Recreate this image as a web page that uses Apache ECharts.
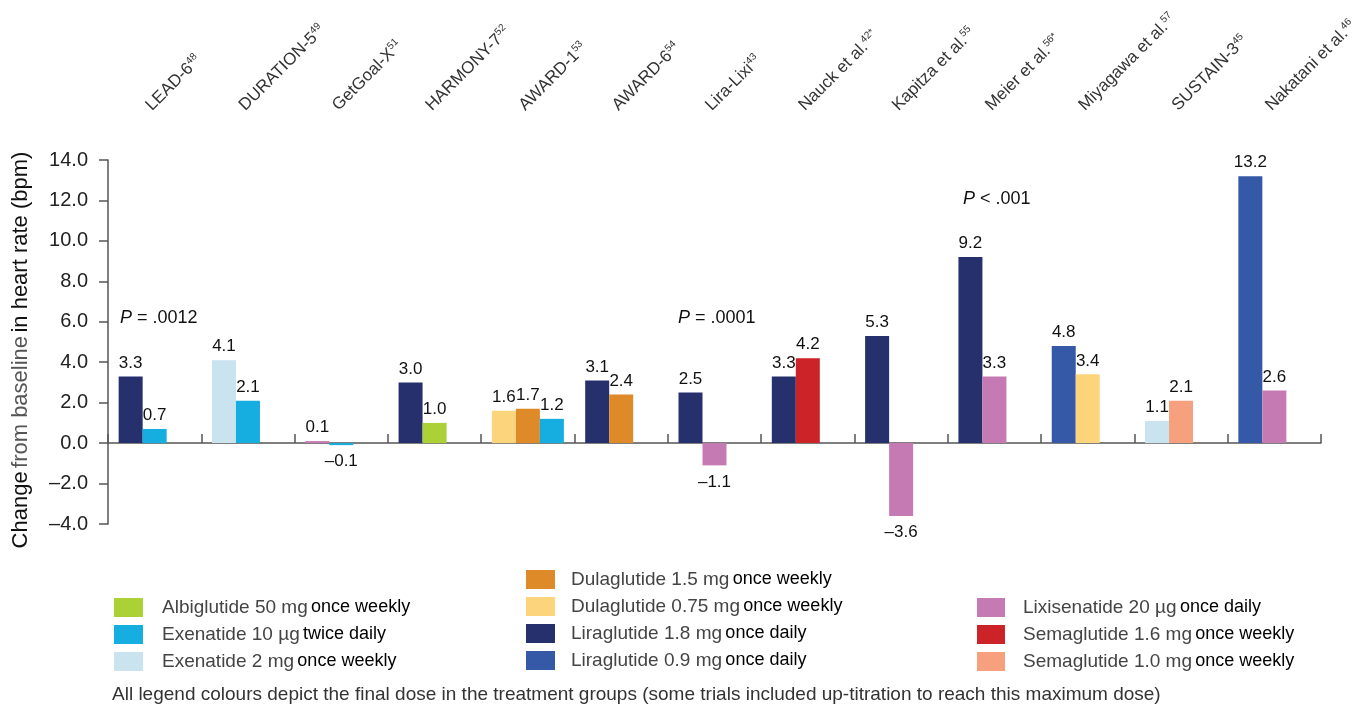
<!DOCTYPE html>
<html><head><meta charset="utf-8">
<script src="https://cdn.jsdelivr.net/npm/echarts@6/dist/echarts.min.js"></script>
<style>html,body{margin:0;padding:0;background:#fff}#c{width:1354px;height:707px}</style>
</head><body><div id="c"></div>
<script>
// ---- data ----
const categories = ['LEAD-6','DURATION-5','GetGoal-X','HARMONY-7','AWARD-1','AWARD-6','Lira-Lixi','Nauck et al.','Kapitza et al.','Meier et al.','Miyagawa et al.','SUSTAIN-3','Nakatani et al.'];
const categorySups = ['48','49','51','52','53','54','43','42*','55','56*','57','45','46'];
const drugNames = ['Albiglutide 50 mg','Exenatide 10 µg','Exenatide 2 mg','Dulaglutide 1.5 mg','Dulaglutide 0.75 mg','Liraglutide 1.8 mg','Liraglutide 0.9 mg','Lixisenatide 20 µg','Semaglutide 1.6 mg','Semaglutide 1.0 mg'];
const drugFreqs = ['once weekly','twice daily','once weekly','once weekly','once weekly','once daily','once daily','once daily','once weekly','once weekly'];
const slot1Drug   = [5, 2, 7, 5, 4, 5, 5, 5, 5, 5, 6, 2, 6];
const slot1Values = [3.3, 4.1, 0.1, 3.0, 1.6, 3.1, 2.5, 3.3, 5.3, 9.2, 4.8, 1.1, 13.2];
const slot2Drug   = [1, 1, 1, 0, 3, 3, 7, 8, 7, 7, 4, 9, 7];
const slot2Values = [0.7, 2.1, -0.1, 1.0, 1.7, 2.4, -1.1, 4.2, -3.6, 3.3, 3.4, 2.1, 2.6];
const slot3Drug   = [null, null, null, null, 1, null, null, null, null, null, null, null, null];
const slot3Values = [null, null, null, null, 1.2, null, null, null, null, null, null, null, null];
const yMin = -4, yMax = 14, yInterval = 2;
const legendColumns = [[0,1,2],[3,4,5,6],[7,8,9]];
const pAnnotations = [['P', ' = .0012'], ['P', ' = .0001'], ['P', ' < .001']];

// ---- style ----
const drugColors = ['#acd136','#16aee0','#c9e3ef','#de8a29','#fcd47c','#25306c','#3659a7','#c67ab4','#cc2329','#f6a07d'];
const FONT = '"Liberation Sans", Arial, Helvetica, sans-serif';
const dash = v => (v < 0 ? '\u2013' + Math.abs(v).toFixed(1) : v.toFixed(1));
const fullName = i => drugNames[i] + ' ' + drugFreqs[i];

function slotData(drugs, values) {
  return values.map((v, i) => v === null ? null : {
    value: v,
    itemStyle: { color: drugColors[drugs[i]] },
    label: { position: v < 0 ? 'bottom' : 'top', distance: v < 0 ? 8 : 5 }
  });
}
const barLabel = { show: true, fontFamily: FONT, fontSize: 17, color: '#111', formatter: p => dash(p.value) };
const slotSeries = [[slot1Drug, slot1Values], [slot2Drug, slot2Values], [slot3Drug, slot3Values]].map((s, k) => ({
  type: 'bar', name: 'slot' + k, xAxisIndex: 0, yAxisIndex: 0,
  barWidth: 24, barGap: '0%', data: slotData(s[0], s[1]), label: barLabel,
  emphasis: { disabled: true }, animation: false
}));
const legendSeries = drugNames.map((n, i) => ({
  type: 'line', name: fullName(i), data: [], xAxisIndex: 0, yAxisIndex: 0,
  color: drugColors[i], itemStyle: { color: drugColors[i] }, lineStyle: { color: drugColors[i] }
}));

const legendLefts = [114, 526, 977];
const legendTops = [598, 570, 598];
const legendIconW = [29, 29, 28];
const legendPad = [14, 11, 13];
const legends = legendColumns.map((col, c) => ({
  orient: 'vertical', left: legendLefts[c], top: legendTops[c], padding: 0,
  itemWidth: legendIconW[c], itemHeight: 19, itemGap: 8, icon: 'rect', selectedMode: false,
  data: col.map(i => ({ name: fullName(i), itemStyle: { color: drugColors[i] } })),
  formatter: name => { const i = drugNames.findIndex((d, j) => fullName(j) === name); return '{a|' + drugNames[i] + '} {b|' + drugFreqs[i] + '}'; },
  textStyle: { rich: {
    a: { fontFamily: FONT, fontSize: 19, color: '#444', lineHeight: 19, padding: [0, 0, 0, legendPad[c]] },
    b: { fontFamily: FONT, fontSize: 18, color: '#000', lineHeight: 19 }
  } }
}));

const annotPos = [[120, 318], [678, 318], [963, 199]];
const graphics = pAnnotations.map((a, k) => ({
  type: 'text', x: annotPos[k][0], y: annotPos[k][1], silent: true,
  style: { text: '{i|' + a[0] + '}{n|' + a[1] + '}', verticalAlign: 'middle', fill: '#111', fontFamily: FONT, fontSize: 18,
    rich: { i: { fontStyle: 'italic', fontFamily: FONT, fontSize: 18, fill: '#111' }, n: { fontFamily: FONT, fontSize: 18, fill: '#111' } } }
}));
graphics.push({
  type: 'text', x: 112, y: 695, silent: true,
  style: { text: 'All legend colours depict the final dose in the treatment groups (some trials included up-titration to reach this maximum dose)',
    verticalAlign: 'middle', fill: '#333', fontFamily: FONT, fontSize: 19 }
});

const chart = echarts.init(document.getElementById('c'), null, { renderer: 'canvas' });
chart.setOption({
  animation: false,
  backgroundColor: '#fff',
  grid: [
    { left: 108, right: 33, top: 160, bottom: 183, containLabel: false, outerBoundsMode: 'none' },
    { left: 102, right: 39, top: 160, bottom: 183, containLabel: false, outerBoundsMode: 'none' }
  ],
  xAxis: [
    { type: 'category', gridIndex: 0, data: categories, position: 'bottom',
      axisLine: { show: true, onZero: true, lineStyle: { color: '#555', width: 1.5 } },
      axisTick: { show: true, inside: true, length: 9, interval: 0, lineStyle: { color: '#555', width: 1.5 } },
      axisLabel: { show: false }, splitLine: { show: false } },
    { type: 'category', gridIndex: 1, data: categories, position: 'top',
      axisLine: { show: false }, axisTick: { show: false }, splitLine: { show: false },
      axisLabel: { show: true, rotate: 45, margin: 52, interval: 0,
        formatter: (v, i) => '{m|' + v + '}{s|' + categorySups[i] + '}',
        rich: { m: { fontFamily: FONT, fontSize: 17, color: '#333', lineHeight: 19 },
                s: { fontFamily: FONT, fontSize: 10, color: '#333', verticalAlign: 'top', lineHeight: 10 } } } }
  ],
  yAxis: [
    { type: 'value', gridIndex: 0, min: yMin, max: yMax, interval: yInterval,
      axisLine: { show: true, lineStyle: { color: '#555', width: 1.5 } },
      axisTick: { show: true, inside: false, length: 9, lineStyle: { color: '#555', width: 1.5 } },
      splitLine: { show: false },
      axisLabel: { margin: 20, fontFamily: FONT, fontSize: 20, color: '#222', formatter: v => dash(v) },
      name: '{d|Change} {g|from baseline} {d|in heart rate (bpm)}', nameLocation: 'middle', nameGap: 76, nameRotate: 90,
      nameTextStyle: { padding: [0, 16, 0, 0], rich: { d: { fontFamily: FONT, fontSize: 22, color: '#111' }, g: { fontFamily: FONT, fontSize: 22, color: '#555' } } } },
    { type: 'value', gridIndex: 1, show: false, min: yMin, max: yMax }
  ],
  legend: legends,
  series: slotSeries.concat(legendSeries),
  graphic: graphics
});
</script></body></html>
